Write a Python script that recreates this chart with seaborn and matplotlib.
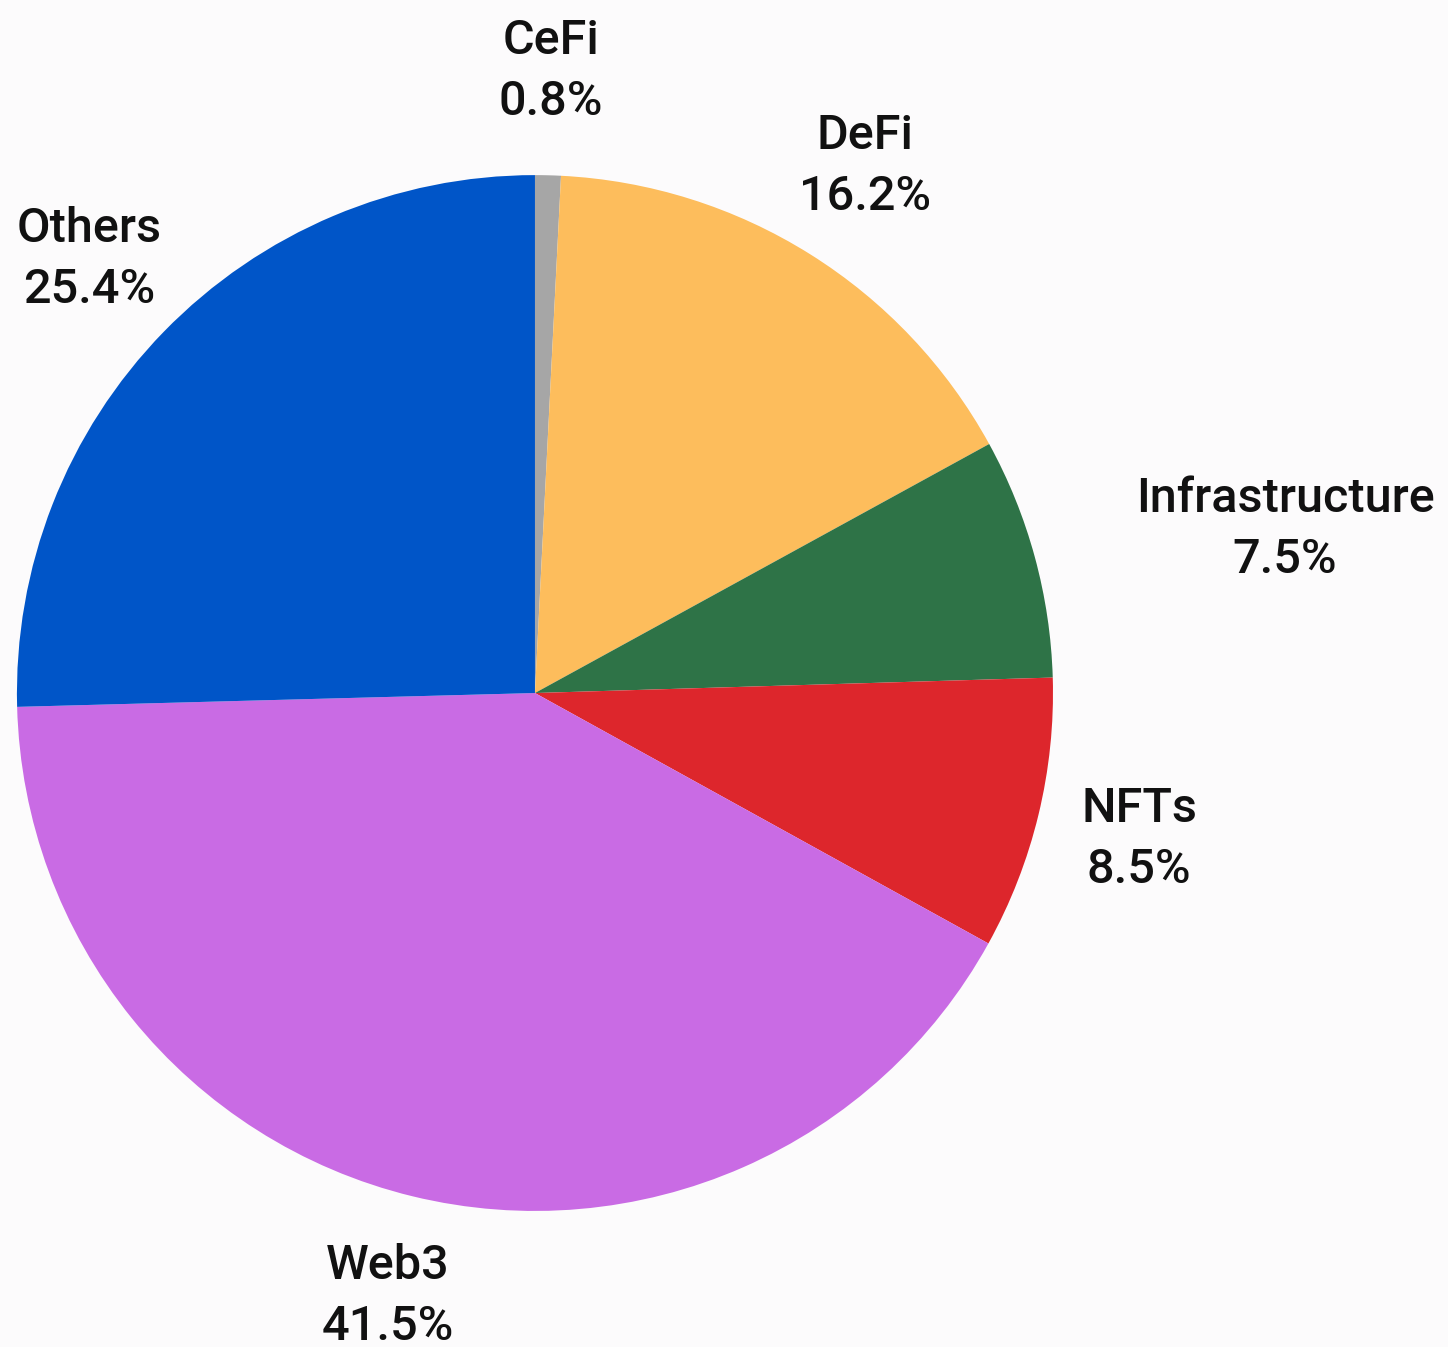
import matplotlib
matplotlib.use('Agg')
import matplotlib.pyplot as plt
import seaborn as sns

# Data
categories = ['CeFi', 'DeFi', 'Infrastructure', 'NFTs', 'Web3', 'Others']
shares = [0.8, 16.2, 7.5, 8.5, 41.5, 25.4]
colors = ['#a6a6a6', '#fdbd5c', '#2e7347', '#dd262c', '#c96be4', '#0055c8']

BG = '#fcfbfc'

sns.set_theme(style='white')
plt.rcParams['font.family'] = ['Roboto', 'DejaVu Sans']

fig = plt.figure(figsize=(14.48, 13.47), dpi=100, facecolor=BG)
# axes placed so the pie sits at the left, labels to the right
ax = fig.add_axes([0.0117, 0.101, 0.7155, 0.769])
ax.set_facecolor(BG)

labels = [f'{c}\n{v:.1f}%' for c, v in zip(categories, shares)]
wedges, texts = ax.pie(shares, labels=labels, colors=colors, startangle=90,
                       counterclock=False, labeldistance=1.2,
                       wedgeprops={'linewidth': 0},
                       textprops={'fontsize': 35, 'fontweight': 'medium',
                                  'color': '#111111', 'linespacing': 1.42})
for t in texts:
    t.set_horizontalalignment('center')
    t.set_verticalalignment('center')
    t.set_multialignment('center')

# Infrastructure label was nudged outward in the original
texts[2].set_position((1.448, 0.315))

ax.set_xlim(-1, 1)
ax.set_ylim(-1, 1)
ax.set_aspect('auto')
ax.axis('off')

fig.savefig('out.png', dpi=100, facecolor=BG)
